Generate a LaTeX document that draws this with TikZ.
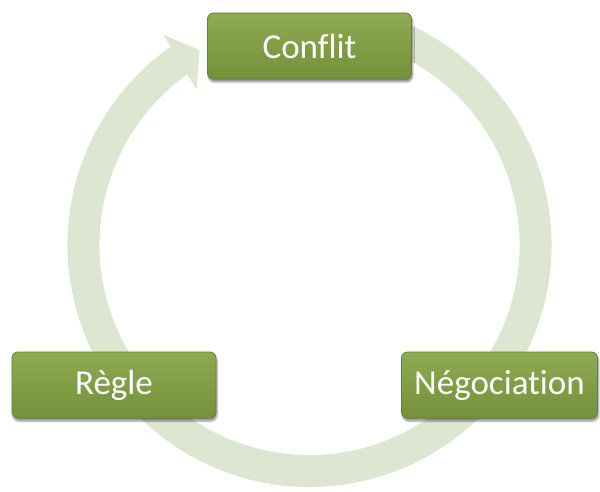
\documentclass[tikz,border=0pt]{standalone}
\usepackage{fontspec}
\setmainfont{Carlito}[Ligatures=NoCommon]
\usetikzlibrary{positioning,calc,shadows.blur}
\definecolor{boxtop}{HTML}{8DAB52}
\definecolor{boxbot}{HTML}{74913B}
\definecolor{boxline}{HTML}{66812F}
\definecolor{ringgreen}{HTML}{DDE6D1}
\begin{document}
\begin{tikzpicture}[x=1pt, y=1pt, on grid,
  stage/.style={rectangle, rounded corners=6pt, draw=boxline, line width=0.8pt,
    top color=boxtop, bottom color=boxbot, text=white,
    minimum width=204pt, minimum height=66pt, inner sep=0pt,
    font=\fontsize{35}{42}\selectfont,
    blur shadow={shadow xshift=1pt, shadow yshift=-3pt, shadow opacity=45, shadow blur steps=6}},
  ring/.style={draw=ringgreen, line width=32pt},
  ringhead/.style={fill=ringgreen}]
\useasboundingbox (0,0) rectangle (600,491);
\coordinate (c_{ring}) at (309.5,246);
\draw[ring] (c_{ring}) ++(70:226) arc[start angle=70, end angle=-235, radius=226];
\coordinate (h_{in})  at ($(c_{ring})+(126:192)$);
\coordinate (h_{out}) at ($(c_{ring})+(124.8:256)$);
\coordinate (h_{tip}) at ($(c_{ring})+(119.4:224)$);
\fill[ringhead] (h_{in}) -- (h_{tip}) -- (h_{out}) -- cycle;
\node[stage] 		(conflit)	at (309.5,445)						{Conflit};
\node[stage]		(regle)	[below left=339pt and 195.5pt of conflit]		{Règle};
\node[stage, minimum width=196pt]	(negociation)	[below right=339pt and 190pt of conflit]	{Négociation};
\end{tikzpicture}
\end{document}
